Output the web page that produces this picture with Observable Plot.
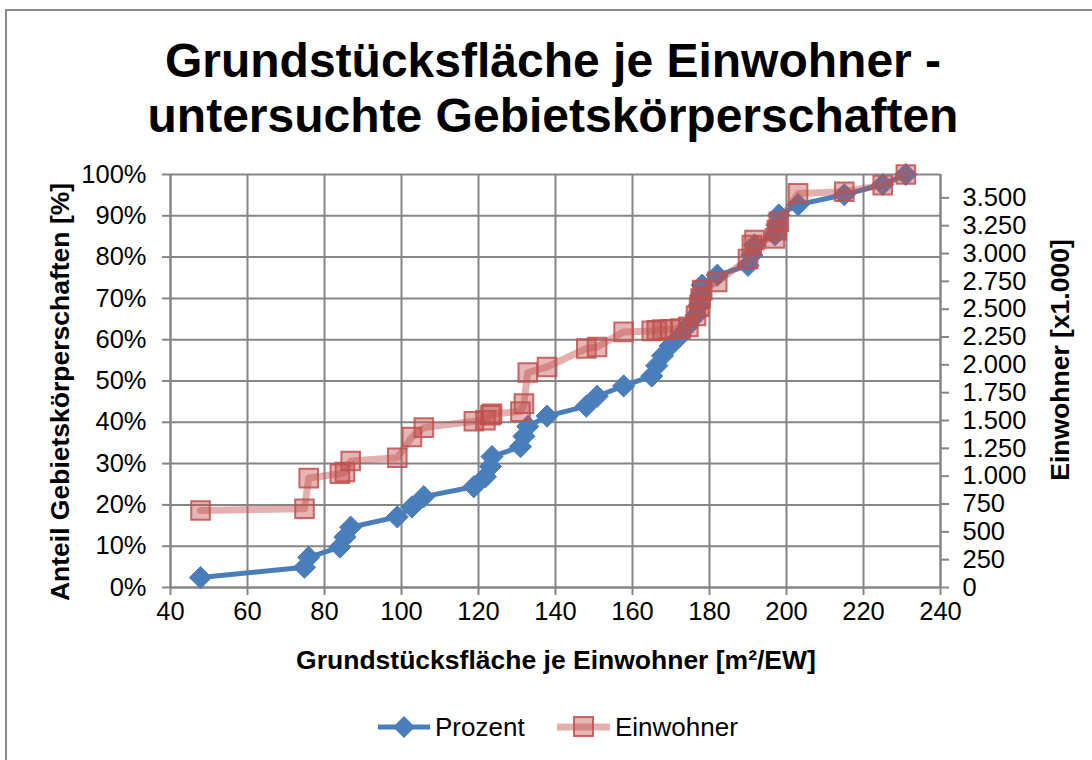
<!DOCTYPE html>
<html>
<head>
<meta charset="utf-8">
<script src="https://cdn.jsdelivr.net/npm/d3@7"></script>
<script src="https://cdn.jsdelivr.net/npm/@observablehq/plot@0.6"></script>
<style>
  html, body { margin: 0; padding: 0; background: #fff; }
  body { font-family: "Liberation Sans", Arial, sans-serif; color: #000; }
  #wrap { position: relative; width: 1092px; height: 760px; overflow: hidden; background: #fff; }
  #frame { position: absolute; left: 5px; top: 9px; width: 1200px; height: 900px;
           border-left: 2px solid #8a8a8a; border-top: 2px solid #8a8a8a; }
  #chart { position: absolute; left: 0; top: 0; }
  .title { position: absolute; left: 0; width: 1106px; text-align: center; font-weight: bold;
           font-size: 48px; line-height: 55px; top: 33px; }
  .axt { position: absolute; font-weight: bold; font-size: 26.5px; white-space: nowrap; }
  .rot { transform: translate(-50%, -50%) rotate(-90deg); }
  .hor { transform: translate(-50%, -50%); }
  #legend { position: absolute; top: 708px; left: 0; width: 1092px; height: 40px; }
  .lg { position: absolute; font-size: 26px; top: 4px; }
</style>
</head>
<body>
<div id="wrap">
  <div id="frame"></div>
  <div id="chart"></div>
  <div class="title">Grundstücksfläche je Einwohner -<br>untersuchte Gebietskörperschaften</div>
  <div class="axt rot" style="left:60px; top:392px;">Anteil Gebietskörperschaften [%]</div>
  <div class="axt rot" style="left:1060px; top:360px;">Einwohner [x1.000]</div>
  <div class="axt hor" style="left:556px; top:660px;">Grundstücksfläche je Einwohner [m²/EW]</div>
  <div id="legend"></div>
</div>
<script>
// ---- data ----
const flaeche = [47.8, 74.8, 75.9, 84.0, 85.3, 86.8, 98.9, 102.7, 105.8, 118.8,
                 121.8, 123.1, 123.5, 130.9, 131.8, 132.8, 137.8, 148.0, 150.8, 157.7,
                 165.0, 166.3, 167.8, 169.8, 172.5, 174.5, 176.5, 177.3, 177.7, 178.1,
                 182.0, 190.0, 191.0, 191.7, 197.0, 197.5, 198.0, 203.0, 215.0, 225.0, 231.0];
const prozent = [2.4, 4.9, 7.3, 9.8, 12.2, 14.6, 17.1, 19.5, 22.0, 24.4,
                 26.8, 29.3, 31.7, 34.1, 36.6, 39.0, 41.5, 43.9, 46.3, 48.8,
                 51.2, 53.7, 56.1, 58.5, 61.0, 63.4, 65.9, 68.3, 70.7, 73.2,
                 75.6, 78.0, 80.5, 82.9, 85.4, 87.8, 90.2, 92.7, 95.1, 97.6, 100.0];
const einwohner = [692, 708, 983, 1022, 1037, 1136, 1166, 1352, 1436, 1493,
                   1502, 1547, 1560, 1580, 1652, 1931, 1981, 2147, 2161, 2296,
                   2305, 2311, 2317, 2320, 2325, 2341, 2440, 2521, 2596, 2671,
                   2745, 2950, 3076, 3121, 3136, 3210, 3285, 3540, 3555, 3615, 3710];
const einwohnerMax = 3710;
const xTicks = [40, 60, 80, 100, 120, 140, 160, 180, 200, 220, 240];
const pctTicks = [0, 10, 20, 30, 40, 50, 60, 70, 80, 90, 100];
const pctLabels = ["0%", "10%", "20%", "30%", "40%", "50%", "60%", "70%", "80%", "90%", "100%"];
const ewTicks = [0, 250, 500, 750, 1000, 1250, 1500, 1750, 2000, 2250, 2500, 2750, 3000, 3250, 3500];
const ewLabels = ["0", "250", "500", "750", "1.000", "1.250", "1.500", "1.750", "2.000", "2.250",
                  "2.500", "2.750", "3.000", "3.250", "3.500"];

const seriesNames = ["Prozent", "Einwohner"];
const blue = "#4a7ebb";
const red = "#c0504d";
const grid = "#868686";

const blueData = flaeche.map((x, i) => ({x, y: prozent[i]}));
const redData = flaeche.map((x, i) => ({x, y: einwohner[i] / einwohnerMax * 100}));
const ewPos = ewTicks.map(v => v / einwohnerMax * 100);

const plot = Plot.plot({
  width: 1092,
  height: 760,
  marginLeft: 170,
  marginRight: 152,
  marginTop: 174,
  marginBottom: 173,
  style: {fontFamily: "'Liberation Sans', Arial, sans-serif", fontSize: "25.5px", background: "transparent", color: "#000"},
  x: {domain: [40, 240]},
  y: {domain: [0, 100]},
  marks: [
    Plot.gridX(xTicks, {stroke: grid, strokeOpacity: 1, strokeWidth: 2}),
    Plot.gridY(pctTicks, {stroke: grid, strokeOpacity: 1, strokeWidth: 2}),
    Plot.axisX(xTicks, {anchor: "bottom", tickSize: 8, tickPadding: 6, stroke: grid, strokeWidth: 2, fill: "#000",
                        tickFormat: d => String(d), label: null}),
    Plot.axisY(pctTicks, {anchor: "left", tickSize: 8, tickPadding: 16, stroke: grid, strokeWidth: 2, fill: "#000",
                          tickFormat: d => pctLabels[pctTicks.indexOf(d)], label: null}),
    Plot.axisY(ewPos, {anchor: "right", tickSize: 8, tickPadding: 14, stroke: grid, strokeWidth: 2, fill: "#000",
                       tickFormat: d => ewLabels[ewPos.indexOf(d)], label: null}),
    Plot.ruleX([40, 240], {stroke: grid, strokeWidth: 2}),
    Plot.ruleY([0], {stroke: grid, strokeWidth: 2}),
    Plot.line(blueData, {x: "x", y: "y", stroke: blue, strokeWidth: 5, strokeLinejoin: "round", curve: "linear"}),
    Plot.dot(blueData, {x: "x", y: "y", symbol: "diamond2", r: 10, fill: blue, stroke: blue, strokeWidth: 1}),
    Plot.line(redData, {x: "x", y: "y", stroke: red, strokeOpacity: 0.45, strokeWidth: 7, strokeLinejoin: "round"}),
    Plot.dot(redData, {x: "x", y: "y", symbol: "square", r: 10.5, fill: red, fillOpacity: 0.42,
                       stroke: red, strokeOpacity: 0.85, strokeWidth: 2})
  ]
});
document.getElementById("chart").appendChild(plot);

// legend
const lg = document.getElementById("legend");
lg.innerHTML =
  `<svg width="1092" height="40" style="position:absolute;left:0;top:0">
     <line x1="378" x2="430" y1="19" y2="19" stroke="${blue}" stroke-width="5"/>
     <path d="M404,8 L415,19 L404,30 L393,19 Z" fill="${blue}"/>
     <line x1="557" x2="610" y1="19" y2="19" stroke="${red}" stroke-opacity="0.45" stroke-width="7"/>
     <rect x="574" y="9" width="19" height="19" fill="${red}" fill-opacity="0.42" stroke="${red}" stroke-opacity="0.85" stroke-width="2"/>
   </svg>
   <div class="lg" style="left:435px">${seriesNames[0]}</div>
   <div class="lg" style="left:615px">${seriesNames[1]}</div>`;
</script>
</body>
</html>
